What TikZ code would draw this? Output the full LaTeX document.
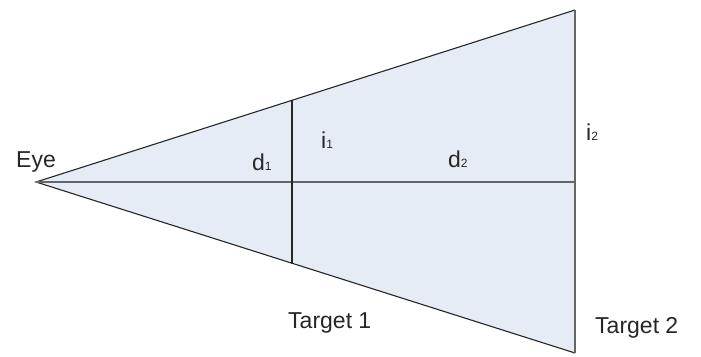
\documentclass[tikz,border=0pt]{standalone}
\usepackage{fontspec}
\setmainfont{Liberation Sans}
\newcommand{\idx}[1]{{\fontsize{12}{12}\selectfont #1}}
\definecolor{viewfill}{HTML}{E6ECF6}
\definecolor{axisgray}{HTML}{666666}
\tikzset{
  lbl/.style={anchor=base, inner sep=0pt, text=black!85, font=\fontsize{23}{26}\selectfont},
  edge/.style={draw=black!85, line width=1.1pt}
}
\begin{document}
\begin{tikzpicture}[x=1pt, y=-1pt]
    \useasboundingbox (0,0) rectangle (701,356);

    % Points
    \coordinate (eye) at (36,182);
    \coordinate (top2) at (575,10);
    \coordinate (bot2) at (575,353);
    \coordinate (top1) at (292,100);
    \coordinate (bot1) at (292,264);
    \coordinate (mid2) at (575,182);

    % View cone
    \fill[viewfill] (eye) -- (top2) -- (bot2) -- cycle;
    \draw[edge] (top2) -- (eye) -- (bot2);

    % Target planes and sight line
    \draw[axisgray, line width=2pt] (eye) -- (mid2);
    \draw[axisgray, line width=2pt] (top2) -- (bot2);
    \draw[black!85, line width=1.3pt] (top1) -- (bot1);

    % Labels
    \node[lbl] (eyelbl) at (36,167) {Eye};
    \node[lbl, anchor=base west] (d1) at (252,170) {d\idx{1}};
    \node[lbl, anchor=base west] (i1) at (321,148) {i\idx{1}};
    \node[lbl, anchor=base west] (d2) at (448,167) {d\idx{2}};
    \node[lbl, anchor=base west] (i2) at (586,140) {i\idx{2}};
    \node[lbl, anchor=base west] (t1) at (288,328) {Target 1};
    \node[lbl, anchor=base west] (t2) at (595,333) {Target 2};
\end{tikzpicture}
\end{document}
